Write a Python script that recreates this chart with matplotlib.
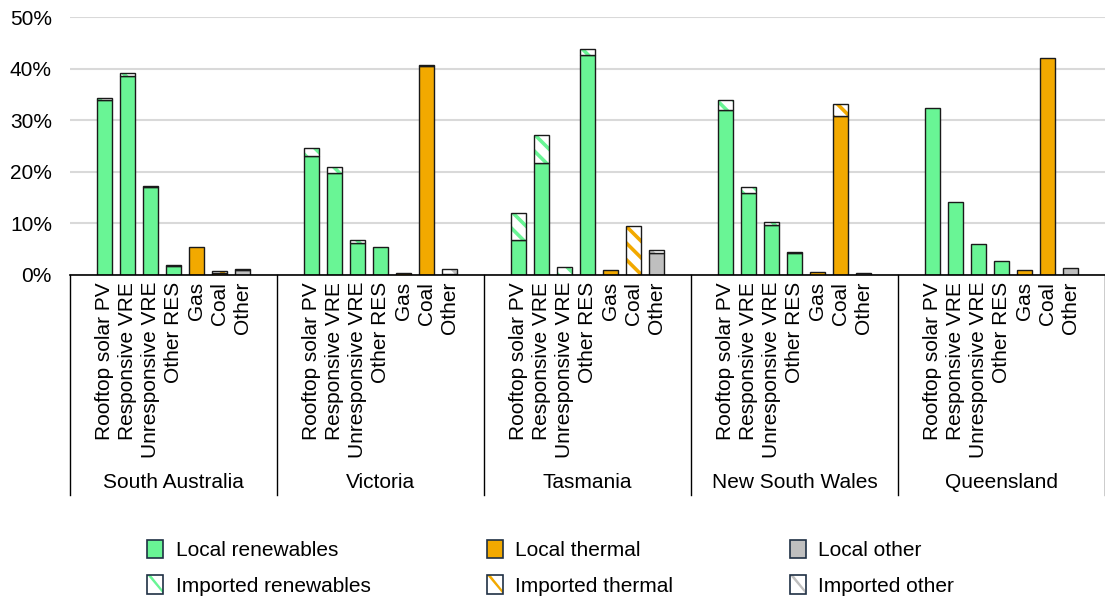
import matplotlib
matplotlib.use("Agg")
import matplotlib.pyplot as plt
import matplotlib.transforms as mtransforms
from matplotlib.patches import Patch, Rectangle, Polygon
from matplotlib.legend_handler import HandlerBase
from matplotlib.ticker import PercentFormatter

plt.rcParams['font.family'] = ['Liberation Sans', 'DejaVu Sans']
plt.rcParams['hatch.linewidth'] = 2.6

# data (% of regional generation)
regions = ["South Australia", "Victoria", "Tasmania", "New South Wales", "Queensland"]
categories = ["Rooftop solar PV", "Responsive VRE", "Unresponsive VRE", "Other RES",
              "Gas", "Coal", "Other"]
kinds = ["renew", "renew", "renew", "renew", "thermal", "thermal", "other"]

local_sa = [34.0, 38.6, 17.1, 1.8, 5.4, 0.3, 1.0]
imported_sa = [0.4, 0.5, 0.2, 0.1, 0.0, 0.4, 0.2]
local_vic = [23.1, 19.8, 6.2, 5.4, 0.3, 40.5, 0.2]
imported_vic = [1.6, 1.2, 0.6, 0.0, 0.0, 0.2, 1.0]
local_tas = [6.7, 21.8, 0.0, 42.6, 1.0, 0.0, 4.3]
imported_tas = [5.4, 5.3, 1.5, 1.3, 0.0, 9.6, 0.5]
local_nsw = [32.1, 16.0, 9.7, 4.3, 0.5, 30.9, 0.3]
imported_nsw = [1.8, 1.1, 0.5, 0.1, 0.0, 2.3, 0.0]
local_qld = [32.4, 14.1, 6.1, 2.8, 1.0, 42.1, 1.4]
imported_qld = [0.0, 0.0, 0.0, 0.0, 0.0, 0.0, 0.0]

local_all = [local_sa, local_vic, local_tas, local_nsw, local_qld]
imported_all = [imported_sa, imported_vic, imported_tas, imported_nsw, imported_qld]

colors = {"renew": "#69F595", "thermal": "#F2A900", "other": "#BFBFBF"}
EDGE = "#1a1a1a"
LEG_EDGE = "#1F3044"
SLOTS = 9  # 1 gap + 7 bars + 1 gap per region
WIDTH = 0.68

fig = plt.figure(figsize=(11.05, 5.96), dpi=100)
ax = fig.add_axes([0.0633, 0.5386, 0.9367, 0.4324])

xticks, xlabels = [], []
for g, region in enumerate(regions):
    for k, cat in enumerate(categories):
        x = g * SLOTS + 1.5 + k
        col = colors[kinds[k]]
        loc = local_all[g][k]
        imp = imported_all[g][k]
        if loc > 0:
            ax.bar(x, loc, width=WIDTH, color=col, edgecolor=EDGE, linewidth=1.0, zorder=3)
        if imp > 0:
            ax.bar(x, imp, bottom=loc, width=WIDTH, facecolor="white", edgecolor=col,
                   hatch="\\\\", linewidth=0, zorder=3)
            ax.bar(x, imp, bottom=loc, width=WIDTH, facecolor="none", edgecolor=EDGE,
                   linewidth=1.0, zorder=4)
        xticks.append(x)
        xlabels.append(cat)

ax.set_xlim(0, SLOTS * len(regions))
ax.set_ylim(0, 50)
ax.set_yticks(range(0, 51, 10))
ax.yaxis.set_major_formatter(PercentFormatter(decimals=0))
ax.set_xticks(xticks)
ax.set_xticklabels(xlabels, rotation=90, fontsize=15)
ax.tick_params(axis="x", length=0, pad=5)
ax.tick_params(axis="y", length=0, pad=13, labelsize=15)
ax.grid(axis="y", color="#d9d9d9", linewidth=1.5, zorder=0)
for side in ["left", "right", "top"]:
    ax.spines[side].set_visible(False)
ax.spines["bottom"].set_color("black")
ax.spines["bottom"].set_linewidth(1.2)
ax.spines["bottom"].set_zorder(5)

# region separators and labels below the axis
trans = mtransforms.blended_transform_factory(ax.transData, ax.transAxes)
for g in range(len(regions) + 1):
    ax.plot([g * SLOTS, g * SLOTS], [0, -0.854], color="black", linewidth=1.0,
            transform=trans, clip_on=False)
for g, region in enumerate(regions):
    ax.text(g * SLOTS + SLOTS / 2, -0.807, region, transform=trans, ha="center",
            va="center", fontsize=15)


# legend: imported entries show a single diagonal stripe
class StripeHandler(HandlerBase):
    def create_artists(self, legend, orig_handle, xdescent, ydescent, width, height,
                       fontsize, trans):
        x0, y0 = -xdescent, -ydescent
        col = orig_handle.get_facecolor()
        s = width * 0.22
        stripe = Polygon([(x0, y0 + height), (x0 + s, y0 + height),
                          (x0 + width, y0 + s), (x0 + width, y0)],
                         closed=True, facecolor=col, edgecolor="none", transform=trans)
        box = Rectangle((x0, y0), width, height, facecolor="none", edgecolor=LEG_EDGE,
                        linewidth=1.2, transform=trans)
        back = Rectangle((x0, y0), width, height, facecolor="white", edgecolor="none",
                         transform=trans)
        return [back, stripe, box]


class ImportedPatch(Patch):
    pass


handles = [Patch(facecolor=colors["renew"], edgecolor=LEG_EDGE, linewidth=1.2),
           ImportedPatch(facecolor=colors["renew"]),
           Patch(facecolor=colors["thermal"], edgecolor=LEG_EDGE, linewidth=1.2),
           ImportedPatch(facecolor=colors["thermal"]),
           Patch(facecolor=colors["other"], edgecolor=LEG_EDGE, linewidth=1.2),
           ImportedPatch(facecolor=colors["other"])]
labels = ["Local renewables", "Imported renewables", "Local thermal", "Imported thermal",
          "Local other", "Imported other"]
fig.legend(handles, labels, ncol=3, loc="upper left", bbox_to_anchor=(0.124, 0.112),
           frameon=False, fontsize=15, handlelength=0.75, handleheight=1.0,
           handletextpad=0.6, columnspacing=5.6, labelspacing=0.72, borderpad=0,
           handler_map={ImportedPatch: StripeHandler()})

fig.savefig("out.png", dpi=100)
